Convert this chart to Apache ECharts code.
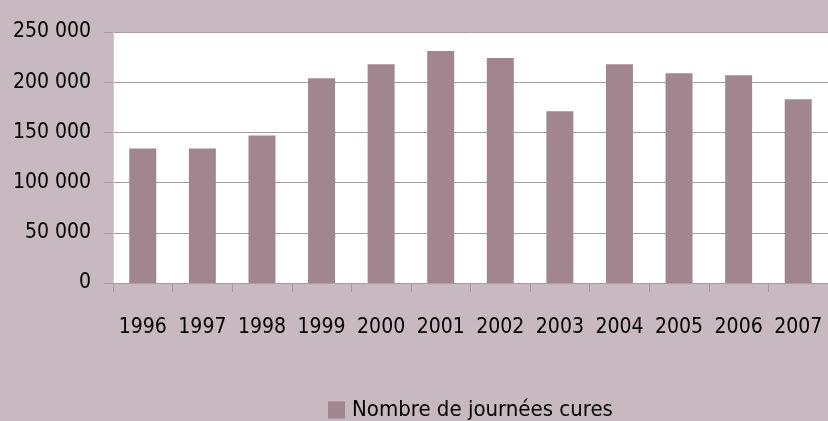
<!DOCTYPE html>
<html>
<head>
<meta charset="utf-8">
<script src="https://cdn.jsdelivr.net/npm/echarts@6/dist/echarts.min.js"></script>
<style>
html,body{margin:0;padding:0;background:#C8B8C0;}
#chart{width:828px;height:421px;}
</style>
</head>
<body>
<div id="chart"></div>
<script>
const categories = ['1996','1997','1998','1999','2000','2001','2002','2003','2004','2005','2006','2007'];
const seriesName = 'Nombre de journées cures';
const values = [134000, 134000, 147000, 204000, 218000, 231000, 224000, 171000, 218000, 209000, 207000, 183000];
const yTicks = [0, 50000, 100000, 150000, 200000, 250000];

const FONT = '"DejaVu Sans Condensed", "DejaVu Sans", sans-serif';
const chart = echarts.init(document.getElementById('chart'), null, {renderer: 'canvas'});
chart.setOption({
  backgroundColor: '#C8B8C0',
  animation: false,
  grid: {left: 113, top: 32, right: -6, bottom: 138, show: true, backgroundColor: '#FFFFFF', borderWidth: 0},
  legend: {
    data: [seriesName], left: 328, top: 399, padding: 0,
    itemWidth: 17, itemHeight: 17, icon: 'rect',
    textStyle: {fontFamily: FONT, fontSize: 22, color: '#000000', padding: [0,0,0,2]}
  },
  xAxis: {
    type: 'category', data: categories,
    axisLine: {show: true, lineStyle: {color: '#AE98A2', width: 1}},
    axisTick: {show: true, alignWithLabel: false, length: 9, lineStyle: {color: '#AE98A2'}},
    axisLabel: {fontFamily: FONT, fontSize: 21, color: '#000000', margin: 34, interval: 0}
  },
  yAxis: {
    type: 'value', min: yTicks[0], max: yTicks[yTicks.length-1], interval: yTicks[1]-yTicks[0],
    axisLine: {show: true, lineStyle: {color: '#D6CAD0', width: 1}},
    axisTick: {show: true, length: 9, lineStyle: {color: '#AE98A2'}},
    splitLine: {show: true, lineStyle: {color: '#AE98A2', width: 1}},
    axisLabel: {
      fontFamily: FONT, fontSize: 21, color: '#000000', margin: 22, padding: [0,0,14,0],
      formatter: v => String(v).replace(/\B(?=(\d{3})+(?!\d))/g, ' ')
    }
  },
  series: [{
    name: seriesName, type: 'bar', data: values, barWidth: 27,
    itemStyle: {color: '#A2868F'}
  }]
});
</script>
</body>
</html>
